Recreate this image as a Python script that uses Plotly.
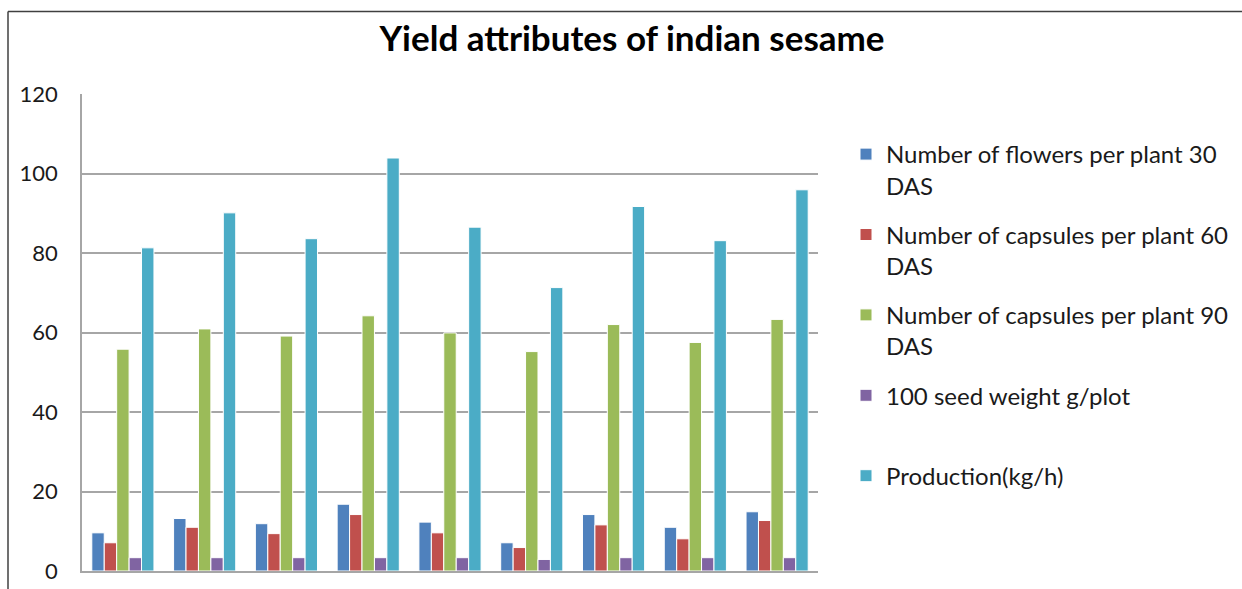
import plotly.graph_objects as go

categories = ["T1", "T2", "T3", "T4", "T5", "T6", "T7", "T8", "T9"]
series_names = [
    "Number of flowers per plant 30<br>DAS",
    "Number of capsules per plant 60<br>DAS",
    "Number of capsules per plant 90<br>DAS",
    "100 seed weight g/plot<br> ",
    "Production(kg/h)",
]
flowers_30 = [9.6, 13.2, 11.9, 16.8, 12.3, 7.1, 14.2, 11.0, 14.9]
capsules_60 = [7.1, 11.0, 9.4, 14.2, 9.6, 5.9, 11.6, 8.1, 12.7]
capsules_90 = [55.8, 60.9, 59.1, 64.2, 59.9, 55.2, 62.0, 57.5, 63.3]
seed_weight = [3.35, 3.35, 3.35, 3.35, 3.35, 2.9, 3.35, 3.35, 3.35]
production = [81.3, 90.1, 83.6, 103.9, 86.5, 71.3, 91.7, 83.1, 95.9]
y_ticks = [0, 20, 40, 60, 80, 100, 120]

colors = ["#4F81BD", "#C0504D", "#9BBB59", "#8064A2", "#4BACC6"]
values = [flowers_30, capsules_60, capsules_90, seed_weight, production]

FONT = "Lato"
W, H = 1242, 589
L, R, T, B = 82, 424, 94, 18
pw, ph = W - L - R, H - T - B

fig = go.Figure()
for i, (name, vals, col) in enumerate(zip(series_names, values, colors)):
    fig.add_trace(go.Bar(
        x=categories, y=vals, name=name,
        marker=dict(color=col, line=dict(color="white", width=1)),
        legendgroup=f"g{i}",
    ))

def px_x(x):
    return (x - L) / pw

def px_y(y):
    return (H - B - y) / ph

fig.update_layout(
    width=W, height=H,
    margin=dict(l=L, r=R, t=T, b=B, autoexpand=False),
    paper_bgcolor="white", plot_bgcolor="white",
    barmode="group", bargap=0.24, bargroupgap=0,
    font=dict(family=FONT, size=22, color="#1a1a1a"),
    title=dict(text="<b>Yield attributes of indian sesame</b>",
               font=dict(family=FONT, size=35, color="#000000"),
               x=632 / W, xanchor="center", xref="container",
               y=1 - 39 / H, yanchor="middle", yref="container"),
    xaxis=dict(showticklabels=False, showgrid=False, ticks="",
               showline=True, linecolor="#a6a6a6", linewidth=1.5),
    yaxis=dict(range=[0, 120], tickvals=y_ticks, showgrid=True,
               gridcolor="#a6a6a6", gridwidth=1.5, zeroline=False,
               showline=True, linecolor="#a6a6a6", linewidth=1.5,
               ticks="", ticklabelstandoff=18,
               tickfont=dict(family=FONT, size=22, color="#1a1a1a")),
    legend=dict(x=px_x(846), xanchor="left", y=px_y(132), yanchor="top",
                valign="top", tracegroupgap=15,
                font=dict(family=FONT, size=24, color="#1a1a1a"),
                bgcolor="rgba(0,0,0,0)"),
    showlegend=True,
    shapes=[
        dict(type="line", xref="paper", yref="paper",
             x0=px_x(8), x1=px_x(W + 2), y0=px_y(11.5), y1=px_y(11.5),
             line=dict(color="#404040", width=1.5)),
        dict(type="line", xref="paper", yref="paper",
             x0=px_x(8), x1=px_x(8), y0=px_y(11.5), y1=px_y(H + 2),
             line=dict(color="#404040", width=1.5)),
    ],
)

fig.write_html("out.html")
